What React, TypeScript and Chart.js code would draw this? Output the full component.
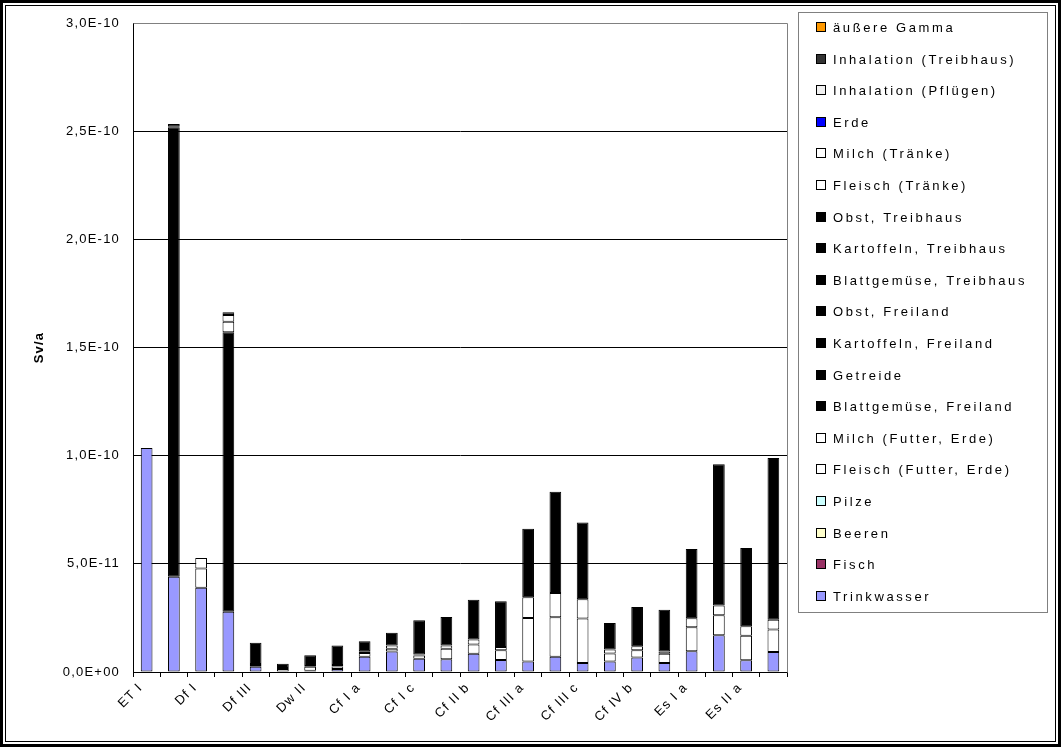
import React, { useEffect, useRef } from 'react';
import { Chart, registerables } from 'chart.js';

Chart.register(...registerables);

const categories = [
  'ET I', 'ET II', 'Df I', 'Df II', 'Df III', 'Dw I', 'Dw II', 'Dw III',
  'Cf I a', 'Cf I b', 'Cf I c', 'Cf II a', 'Cf II b', 'Cf II c',
  'Cf III a', 'Cf III b', 'Cf III c', 'Cf IV a', 'Cf IV b', 'Cf IV c',
  'Es I a', 'Es I b', 'Es II a', 'Es II b',
];

// values in Sv/a
const trinkwasser = [10.35e-11, 4.4e-11, 3.9e-11, 2.78e-11, 0.24e-11, 0.02e-11, 0.06e-11, 0.14e-11, 0.7e-11, 0.95e-11, 0.61e-11, 0.59e-11, 0.84e-11, 0.55e-11, 0.48e-11, 0.7e-11, 0.42e-11, 0.48e-11, 0.67e-11, 0.42e-11, 0.96e-11, 1.7e-11, 0.54e-11, 0.93e-11];
const fisch = [0, 0, 0, 0, 0, 0, 0, 0, 0, 0, 0, 0, 0, 0, 0, 0, 0, 0, 0, 0, 0, 0, 0, 0];
const beeren = [0, 0, 0, 0, 0, 0, 0, 0, 0, 0, 0, 0, 0, 0, 0, 0, 0, 0, 0, 0, 0, 0, 0, 0];
const pilze = [0, 0, 0, 0, 0, 0, 0, 0, 0, 0, 0, 0, 0, 0, 0, 0, 0, 0, 0, 0, 0, 0, 0, 0];
const fleischFutter = [0, 0, 0.89e-11, 0, 0.08e-11, 0.12e-11, 0.18e-11, 0.12e-11, 0.18e-11, 0.12e-11, 0.15e-11, 0.48e-11, 0.43e-11, 0.46e-11, 2.02e-11, 1.83e-11, 2.05e-11, 0.37e-11, 0.34e-11, 0.42e-11, 1.11e-11, 0.92e-11, 1.14e-11, 1.03e-11];
const milchFutter = [0, 0, 0.48e-11, 0, 0.05e-11, 0.04e-11, 0.04e-11, 0.06e-11, 0.08e-11, 0.15e-11, 0.05e-11, 0.15e-11, 0.23e-11, 0.15e-11, 0.95e-11, 1.12e-11, 0.89e-11, 0.19e-11, 0.18e-11, 0.11e-11, 0.41e-11, 0.45e-11, 0.43e-11, 0.46e-11];
const blattFreiland = [0, 20.78e-11, 0, 12.93e-11, 0.98e-11, 0.2e-11, 0.5e-11, 0.9e-11, 0.46e-11, 0.59e-11, 1.58e-11, 1.32e-11, 1.84e-11, 2.11e-11, 3.17e-11, 4.68e-11, 3.55e-11, 1.23e-11, 1.82e-11, 1.93e-11, 3.2e-11, 6.53e-11, 3.62e-11, 7.47e-11];
const getreide = [0, 0, 0, 0, 0, 0, 0, 0, 0, 0, 0, 0, 0, 0, 0, 0, 0, 0, 0, 0, 0, 0, 0, 0];
const kartFreiland = [0, 0, 0, 0, 0, 0, 0, 0, 0, 0, 0, 0, 0, 0, 0, 0, 0, 0, 0, 0, 0, 0, 0, 0];
const obstFreiland = [0, 0, 0, 0, 0, 0, 0, 0, 0, 0, 0, 0, 0, 0, 0, 0, 0, 0, 0, 0, 0, 0, 0, 0];
const blattTreibhaus = [0, 0, 0, 0, 0, 0, 0, 0, 0, 0, 0, 0, 0, 0, 0, 0, 0, 0, 0, 0, 0, 0, 0, 0];
const kartTreibhaus = [0, 0, 0, 0, 0, 0, 0, 0, 0, 0, 0, 0, 0, 0, 0, 0, 0, 0, 0, 0, 0, 0, 0, 0];
const obstTreibhaus = [0, 0, 0, 0, 0, 0, 0, 0, 0, 0, 0, 0, 0, 0, 0, 0, 0, 0, 0, 0, 0, 0, 0, 0];
const fleischTraenke = [0, 0.05e-11, 0, 0.48e-11, 0, 0, 0, 0, 0, 0, 0, 0, 0, 0, 0, 0, 0, 0, 0, 0, 0, 0, 0, 0];
const milchTraenke = [0, 0, 0, 0.31e-11, 0, 0, 0, 0, 0, 0, 0, 0, 0, 0, 0, 0, 0, 0, 0, 0, 0, 0, 0, 0];
const erde = [0, 0, 0, 0, 0, 0, 0, 0, 0, 0, 0, 0, 0, 0, 0, 0, 0, 0, 0, 0, 0, 0, 0, 0];
const inhPfluegen = [0, 0, 0, 0, 0, 0, 0, 0, 0, 0, 0, 0, 0, 0, 0, 0, 0, 0, 0, 0, 0, 0, 0, 0];
const inhTreibhaus = [0, 0.1e-11, 0, 0.13e-11, 0, 0, 0, 0, 0, 0, 0, 0, 0, 0, 0, 0, 0, 0, 0, 0, 0, 0, 0, 0];
const aeussereGamma = [0, 0, 0, 0, 0, 0, 0, 0, 0, 0, 0, 0, 0, 0, 0, 0, 0, 0, 0, 0, 0, 0, 0, 0];

const yTicks = [0, 5e-11, 1e-10, 1.5e-10, 2e-10, 2.5e-10, 3e-10];

// bottom of stack first
const series = [
  { label: 'Trinkwasser', data: trinkwasser, color: '#9999FF' },
  { label: 'Fisch', data: fisch, color: '#993366' },
  { label: 'Beeren', data: beeren, color: '#FFFFCC' },
  { label: 'Pilze', data: pilze, color: '#CCFFFF' },
  { label: 'Fleisch (Futter, Erde)', data: fleischFutter, color: '#FFFFFF' },
  { label: 'Milch (Futter, Erde)', data: milchFutter, color: '#FFFFFF' },
  { label: 'Blattgemüse, Freiland', data: blattFreiland, color: '#000000' },
  { label: 'Getreide', data: getreide, color: '#000000' },
  { label: 'Kartoffeln, Freiland', data: kartFreiland, color: '#000000' },
  { label: 'Obst, Freiland', data: obstFreiland, color: '#000000' },
  { label: 'Blattgemüse, Treibhaus', data: blattTreibhaus, color: '#000000' },
  { label: 'Kartoffeln, Treibhaus', data: kartTreibhaus, color: '#000000' },
  { label: 'Obst, Treibhaus', data: obstTreibhaus, color: '#000000' },
  { label: 'Fleisch (Tränke)', data: fleischTraenke, color: '#FFFFFF' },
  { label: 'Milch (Tränke)', data: milchTraenke, color: '#FFFFFF' },
  { label: 'Erde', data: erde, color: '#0000FF' },
  { label: 'Inhalation (Pflügen)', data: inhPfluegen, color: '#F0F0F0' },
  { label: 'Inhalation (Treibhaus)', data: inhTreibhaus, color: '#333333' },
  { label: 'äußere Gamma', data: aeussereGamma, color: '#FF9900' },
];

const FONT = '"Liberation Sans", Arial, sans-serif';

function fmtSci(v: number): string {
  if (v === 0) return '0,0E+00';
  let exp = Math.floor(Math.log10(Math.abs(v)) + 1e-9);
  let mant = v / Math.pow(10, exp);
  if (Math.round(mant * 10) / 10 >= 10) { mant /= 10; exp += 1; }
  const m = mant.toFixed(1).replace('.', ',');
  const sign = exp < 0 ? '-' : '+';
  const e = String(Math.abs(exp)).padStart(2, '0');
  return `${m}E${sign}${e}`;
}

const spacingPlugin = {
  id: 'letterSpacing',
  beforeDraw(chart: any) {
    chart.ctx.letterSpacing = '1.2px';
  },
};

const framePlugin = {
  id: 'frameAndLegend',
  afterDraw(chart: any) {
    const ctx = chart.ctx as CanvasRenderingContext2D;
    const W = chart.width;
    const H = chart.height;
    const a = chart.chartArea;
    ctx.save();
    // plot area border (top/right)
    ctx.strokeStyle = '#808080';
    ctx.lineWidth = 1;
    ctx.beginPath();
    ctx.moveTo(Math.round(a.left) + 0.5, Math.round(a.top) + 0.5);
    ctx.lineTo(Math.round(a.right) + 0.5, Math.round(a.top) + 0.5);
    ctx.lineTo(Math.round(a.right) + 0.5, Math.round(a.bottom) + 0.5);
    ctx.stroke();

    // outer frame
    ctx.strokeStyle = '#000';
    ctx.lineWidth = 3;
    ctx.strokeRect(1.5, 1.5, W - 3, H - 3);
    ctx.lineWidth = 1;
    ctx.strokeRect(5.5, 5.5, W - 11, H - 11);

    // legend
    const lx = Math.round(a.right) + 11;
    const ly = 12;
    const lw = 249;
    const lh = 600;
    ctx.strokeStyle = '#808080';
    ctx.strokeRect(lx + 0.5, ly + 0.5, lw, lh);
    ctx.font = `13px ${FONT}`;
    (ctx as any).letterSpacing = '2.6px';
    ctx.textBaseline = 'middle';
    ctx.textAlign = 'left';
    const items = [...series].reverse();
    items.forEach((s, i) => {
      const y = Math.round(ly + 15 + i * 31.6);
      ctx.fillStyle = s.color;
      ctx.fillRect(lx + 19, y - 4, 8, 8);
      ctx.strokeStyle = '#000';
      ctx.strokeRect(lx + 18.5, y - 4.5, 9, 9);
      ctx.fillStyle = '#000';
      ctx.fillText(s.label, lx + 35, y + 1);
    });
    ctx.restore();
  },
};

export default function App() {
  const ref = useRef<HTMLCanvasElement>(null);
  useEffect(() => {
    if (!ref.current) return;
    const chart = new Chart(ref.current, {
      type: 'bar',
      data: {
        labels: categories,
        datasets: series.map((s) => ({
          label: s.label,
          data: s.data.map((v) => (v === 0 ? null : v)),
          backgroundColor: s.color,
          borderColor: '#000000',
          borderWidth: 1,
          borderSkipped: false,
          categoryPercentage: 1,
          barPercentage: 0.43,
        })),
      },
      options: {
        responsive: false,
        animation: false,
        events: [],
        layout: { padding: { left: 0, right: 274, top: 23, bottom: 0 } },
        plugins: {
          legend: { display: false },
          tooltip: { enabled: false },
        },
        scales: {
          x: {
            stacked: true,
            grid: { offset: true, drawOnChartArea: false, drawTicks: true, tickLength: 5, color: '#000' },
            border: { display: true, color: '#000' },
            ticks: {
              autoSkip: false,
              minRotation: 45,
              maxRotation: 45,
              color: '#000',
              labelOffset: -6,
              font: { family: FONT, size: 13 },
              callback: (_v: any, i: number) => (i % 2 === 0 ? categories[i] : ''),
            },
            afterFit: (s: any) => { s.height = 75; },
          },
          y: {
            stacked: true,
            min: 0,
            max: 3e-10,
            afterBuildTicks: (s: any) => { s.ticks = yTicks.map((v) => ({ value: v })); },
            grid: {
              color: (c: any) => (c.tick && c.tick.value >= 3e-10 ? '#808080' : '#000'),
              drawTicks: false,
            },
            border: { display: true, color: '#000' },
            ticks: {
              color: '#000',
              padding: 13,
              font: { family: FONT, size: 13 },
              callback: (v: any) => fmtSci(Number(v)),
            },
            title: {
              display: true,
              text: 'Sv/a',
              color: '#000',
              font: { family: FONT, size: 13, weight: 'bold' },
              padding: { top: 32, bottom: 0 },
            },
            afterFit: (s: any) => { s.width = 133; },
          },
        },
      },
      plugins: [spacingPlugin, framePlugin],
    });
    return () => chart.destroy();
  }, []);
  return (
    <div style={{ position: 'absolute', left: 0, top: 0, width: 1061, height: 747, background: '#fff' }}>
      <canvas ref={ref} width={1061} height={747} style={{ display: 'block' }} />
    </div>
  );
}
